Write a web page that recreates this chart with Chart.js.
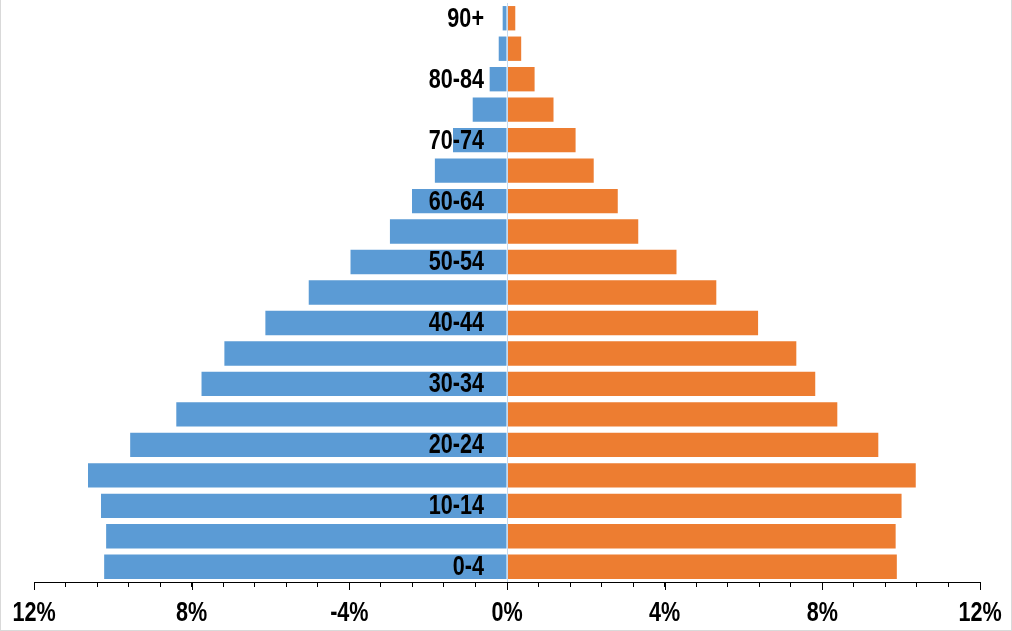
<!DOCTYPE html>
<html lang="en">
<head>
    <meta charset="UTF-8">
    <title>Population Pyramid</title>
    <script src="https://cdn.jsdelivr.net/npm/chart.js"></script>
    <style>
        body {
            margin: 0;
            background: #fff;
        }

        .frame {
            position: relative;
            width: 1010px;
            height: 630px;
            border: 1px solid #d9d9d9;
            border-top: none;
        }
    </style>
</head>
<body>
    <div class="frame">
        <canvas id="pyramid"></canvas>
    </div>

    <script>
        // Age groups, youngest first (drawn bottom-up)
        const ageGroups = ['0-4', '5-9', '10-14', '15-19', '20-24', '25-29', '30-34', '35-39', '40-44',
            '45-49', '50-54', '55-59', '60-64', '65-69', '70-74', '75-79', '80-84', '85-89', '90+'];
        const shownAgeLabels = ['0-4', '10-14', '20-24', '30-34', '40-44', '50-54', '60-64', '70-74', '80-84', '90+'];

        // Share of population (%), left side stored negative
        const maleShare = [-10.22, -10.17, -10.30, -10.63, -9.56, -8.39, -7.75, -7.17, -6.13,
            -5.03, -3.97, -2.97, -2.41, -1.83, -1.37, -0.87, -0.44, -0.21, -0.11];
        const femaleShare = [9.89, 9.86, 10.01, 10.37, 9.42, 8.38, 7.82, 7.34, 6.37,
            5.31, 4.30, 3.33, 2.81, 2.20, 1.74, 1.18, 0.70, 0.36, 0.21];

        // Axis ticks (labelled ones)
        const xTickValues = [-12, -8, -4, 0, 4, 8, 12];
        const xTickLabels = ['12%', '8%', '-4%', '0%', '4%', '8%', '12%'];

        // no narrow font installed, so squeeze Liberation Sans to look like Arial Narrow
        const labelFont = 'bold 27px "Liberation Sans", Arial, sans-serif';
        const squeeze = 0.8;

        function narrowText(ctx, text, x, y) {
            ctx.save();
            ctx.translate(x, y);
            ctx.scale(squeeze, 1);
            ctx.fillText(text, 0, 0);
            ctx.restore();
        }

        const pyramidText = {
            id: 'pyramidText',
            afterDraw(chart) {
                const { ctx, chartArea, scales } = chart;
                const x0 = scales.x.getPixelForValue(0);
                const axisY = scales.x.top;

                ctx.save();
                // faint zero line between the two sides
                ctx.strokeStyle = '#c5daf0';
                ctx.lineWidth = 1;
                ctx.beginPath();
                ctx.moveTo(Math.round(x0) + 0.5, chartArea.top);
                ctx.lineTo(Math.round(x0) + 0.5, chartArea.bottom);
                ctx.stroke();

                // longer tick marks at the labelled values
                ctx.strokeStyle = '#000';
                xTickValues.forEach(function (v) {
                    const x = Math.round(scales.x.getPixelForValue(v)) + 0.5;
                    ctx.beginPath();
                    ctx.moveTo(x, axisY);
                    ctx.lineTo(x, axisY + 8);
                    ctx.stroke();
                });

                ctx.font = labelFont;
                ctx.fillStyle = '#000';
                ctx.textBaseline = 'middle';

                // age labels on top of the bars, left of the zero line
                ctx.textAlign = 'right';
                shownAgeLabels.forEach(function (lbl) {
                    const y = scales.y.getPixelForValue(ageGroups.indexOf(lbl));
                    narrowText(ctx, lbl, x0 - 23, y + 1);
                });

                // x axis labels
                ctx.textAlign = 'center';
                xTickValues.forEach(function (v, i) {
                    narrowText(ctx, xTickLabels[i], scales.x.getPixelForValue(v), axisY + 32);
                });
                ctx.restore();
            }
        };

        const ctx = document.getElementById('pyramid').getContext('2d');
        new Chart(ctx, {
            type: 'bar',
            data: {
                labels: ageGroups,
                datasets: [{
                    label: 'Male',
                    data: maleShare,
                    backgroundColor: '#5b9bd5',
                    barPercentage: 0.8,
                    categoryPercentage: 1.0
                }, {
                    label: 'Female',
                    data: femaleShare,
                    backgroundColor: '#ed7d31',
                    barPercentage: 0.8,
                    categoryPercentage: 1.0
                }]
            },
            options: {
                indexAxis: 'y',
                responsive: true,
                maintainAspectRatio: false,
                animation: false,
                layout: {
                    padding: { left: 33, right: 31, top: 3, bottom: 0 }
                },
                plugins: {
                    legend: { display: false },
                    tooltip: { enabled: false }
                },
                scales: {
                    x: {
                        stacked: true,
                        min: -12,
                        max: 12,
                        grid: {
                            drawOnChartArea: false,
                            drawTicks: true,
                            tickLength: 5,
                            tickColor: '#000'
                        },
                        border: { display: true, color: '#000', width: 1 },
                        ticks: {
                            stepSize: 0.8,
                            autoSkip: false,
                            maxRotation: 0,
                            // labels are drawn by pyramidText
                            callback: function () { return ''; }
                        },
                        afterFit: function (scale) {
                            scale.height = 48;
                        }
                    },
                    y: {
                        stacked: true,
                        reverse: true,
                        display: false
                    }
                }
            },
            plugins: [pyramidText]
        });
    </script>
</body>
</html>
